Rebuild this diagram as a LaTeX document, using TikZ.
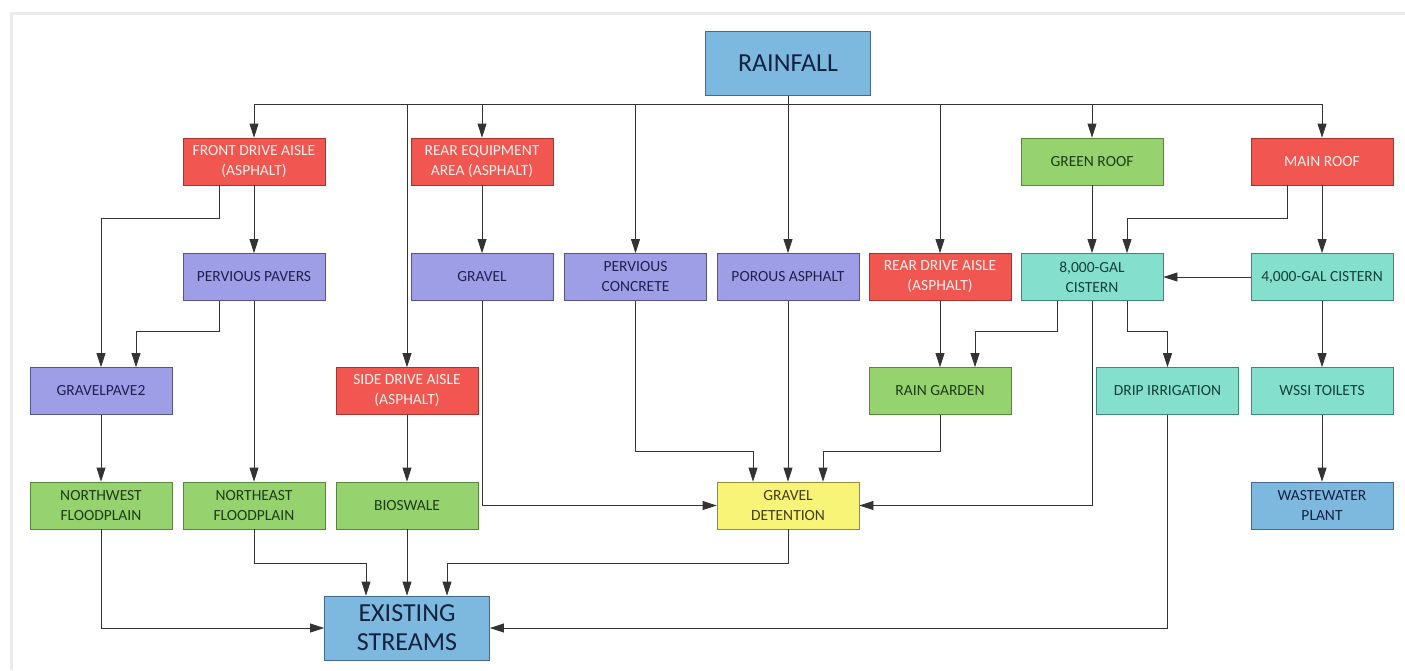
\documentclass[tikz,border=0pt]{standalone}
\usepackage{fontspec}
\setmainfont{Carlito}
\usetikzlibrary{arrows.meta, calc}

\definecolor{redfill}{RGB}{241,86,80}
\definecolor{reddraw}{RGB}{170,50,45}
\definecolor{purplefill}{RGB}{158,158,230}
\definecolor{purpledraw}{RGB}{85,85,140}
\definecolor{greenfill}{RGB}{150,210,110}
\definecolor{greendraw}{RGB}{85,135,60}
\definecolor{tealfill}{RGB}{132,224,204}
\definecolor{tealdraw}{RGB}{65,135,120}
\definecolor{yellowfill}{RGB}{248,244,120}
\definecolor{yellowdraw}{RGB}{145,140,60}
\definecolor{bluefill}{RGB}{125,185,222}
\definecolor{bluedraw}{RGB}{65,105,145}

\begin{document}
\begin{tikzpicture}[
    x=1pt, y=-1pt,
    box/.style={draw, line width=0.8pt, minimum width=142pt, minimum height=47pt,
        align=center, inner sep=2pt, font=\fontsize{15.5}{20}\selectfont},
    bigbox/.style={box, minimum width=165pt, minimum height=64pt,
        font=\fontsize{26}{29}\selectfont},
    redbox/.style={box, fill=redfill, draw=reddraw, text={rgb,255:red,255;green,240;blue,236}},
    purplebox/.style={box, fill=purplefill, draw=purpledraw, text={rgb,255:red,32;green,32;blue,80}},
    greenbox/.style={box, fill=greenfill, draw=greendraw, text={rgb,255:red,28;green,60;blue,20}},
    tealbox/.style={box, fill=tealfill, draw=tealdraw, text={rgb,255:red,18;green,64;blue,58}},
    yellowbox/.style={box, fill=yellowfill, draw=yellowdraw, text={rgb,255:red,64;green,62;blue,18}},
    bluebox/.style={fill=bluefill, draw=bluedraw, text={rgb,255:red,18;green,34;blue,64}},
    flow/.style={line width=0.8pt, black!80, -{Triangle[length=14pt, width=9pt]}},
    wire/.style={line width=0.8pt, black!80},
]

% =============================================================================
% Page and frame
% =============================================================================
\useasboundingbox (0,0) rectangle (1405,670);
\fill[white] (0,0) rectangle (1405,670);
\draw[black!8, line width=3pt] (11,670) -- (11,13) -- (1405,13);

% =============================================================================
% Boxes
% =============================================================================
\node[box, bigbox, bluebox] (rain) at (788,63.5) {RAINFALL};

% Row 1
\node[redbox] (front) at (254,161.5) {FRONT DRIVE AISLE\\(ASPHALT)};
\node[redbox] (rear) at (482,161.5) {REAR EQUIPMENT\\AREA (ASPHALT)};
\node[greenbox] (green) at (1092,161.5) {GREEN ROOF};
\node[redbox] (mainroof) at (1322,161.5) {MAIN ROOF};

% Row 2
\node[purplebox] (pavers) at (254,277) {PERVIOUS PAVERS};
\node[purplebox] (gravel) at (482,277) {GRAVEL};
\node[purplebox] (pconc) at (635.5,277) {PERVIOUS\\CONCRETE};
\node[purplebox] (poro) at (788,277) {POROUS ASPHALT};
\node[redbox] (rdrive) at (940,277) {REAR DRIVE AISLE\\(ASPHALT)};
\node[tealbox] (cist8) at (1092,277) {8,000-GAL\\CISTERN};
\node[tealbox] (cist4) at (1322,277) {4,000-GAL CISTERN};

% Row 3
\node[purplebox] (gp2) at (101,391) {GRAVELPAVE2};
\node[redbox] (side) at (407,391) {SIDE DRIVE AISLE\\(ASPHALT)};
\node[greenbox] (rgarden) at (940,391) {RAIN GARDEN};
\node[tealbox] (drip) at (1167.5,391) {DRIP IRRIGATION};
\node[tealbox] (wssi) at (1322,391) {WSSI TOILETS};

% Row 4
\node[greenbox] (nwfp) at (101,505.5) {NORTHWEST\\FLOODPLAIN};
\node[greenbox] (nefp) at (254,505.5) {NORTHEAST\\FLOODPLAIN};
\node[greenbox] (bios) at (407,505.5) {BIOSWALE};
\node[yellowbox] (gdet) at (788,505.5) {GRAVEL\\DETENTION};
\node[box, bluebox] (wwp) at (1322,505.5) {WASTEWATER\\PLANT};

\node[box, bigbox, bluebox] (streams) at (407,628) {EXISTING\\STREAMS};

% =============================================================================
% Rainfall bus
% =============================================================================
\coordinate (bus) at (788,104);
\draw[wire] (front.north |- bus) -- (mainroof.north |- bus);
\draw[flow] (rain) -- (poro);
\foreach \n in {front, rear, pconc, rdrive, green, mainroof, side} {
    \draw[flow] (\n.north |- bus) -- (\n.north);
}

% =============================================================================
% West side
% =============================================================================
\draw[flow] (front) -- (pavers);
\draw[flow] ([xshift=-35pt]front.south) -- ++(0,33) -| (gp2.north);
\draw[flow] ([xshift=-35pt]pavers.south) -- ++(0,30) -| ([xshift=35pt]gp2.north);
\draw[flow] (pavers) -- (nefp);
\draw[flow] (gp2) -- (nwfp);
\draw[flow] (side) -- (bios);
\draw[flow] (rear) -- (gravel);

% To existing streams
\draw[flow] (nwfp.south) |- (streams.west);
\draw[flow] (nefp.south) -- ++(0,34) -| ([xshift=-41pt]streams.north);
\draw[flow] (bios) -- (streams);
\draw[flow] (gdet.south) -- ++(0,34) -| ([xshift=40pt]streams.north);
\draw[flow] (drip.south) |- (streams.east);

% =============================================================================
% Gravel detention
% =============================================================================
\draw[flow] (gravel.south) |- (gdet.west);
\draw[flow] (pconc.south) -- ++(0,150) -| ([xshift=-35pt]gdet.north);
\draw[flow] (poro) -- (gdet);
\draw[flow] (rgarden.south) -- ++(0,36) -| ([xshift=35pt]gdet.north);
\draw[flow] (rdrive) -- (rgarden);

% =============================================================================
% Roofs and cisterns
% =============================================================================
\draw[flow] (green) -- (cist8);
\draw[flow] ([xshift=-35pt]mainroof.south) -- ++(0,33) -| ([xshift=35pt]cist8.north);
\draw[flow] (mainroof) -- (cist4);
\draw[flow] (cist4) -- (cist8);
\draw[flow] ([xshift=-35pt]cist8.south) -- ++(0,30) -| ([xshift=35pt]rgarden.north);
\draw[flow] (cist8.south) |- (gdet.east);
\draw[flow] ([xshift=35pt]cist8.south) -- ++(0,30) -| (drip.north);
\draw[flow] (cist4) -- (wssi);
\draw[flow] (wssi) -- (wwp);

\end{tikzpicture}
\end{document}
